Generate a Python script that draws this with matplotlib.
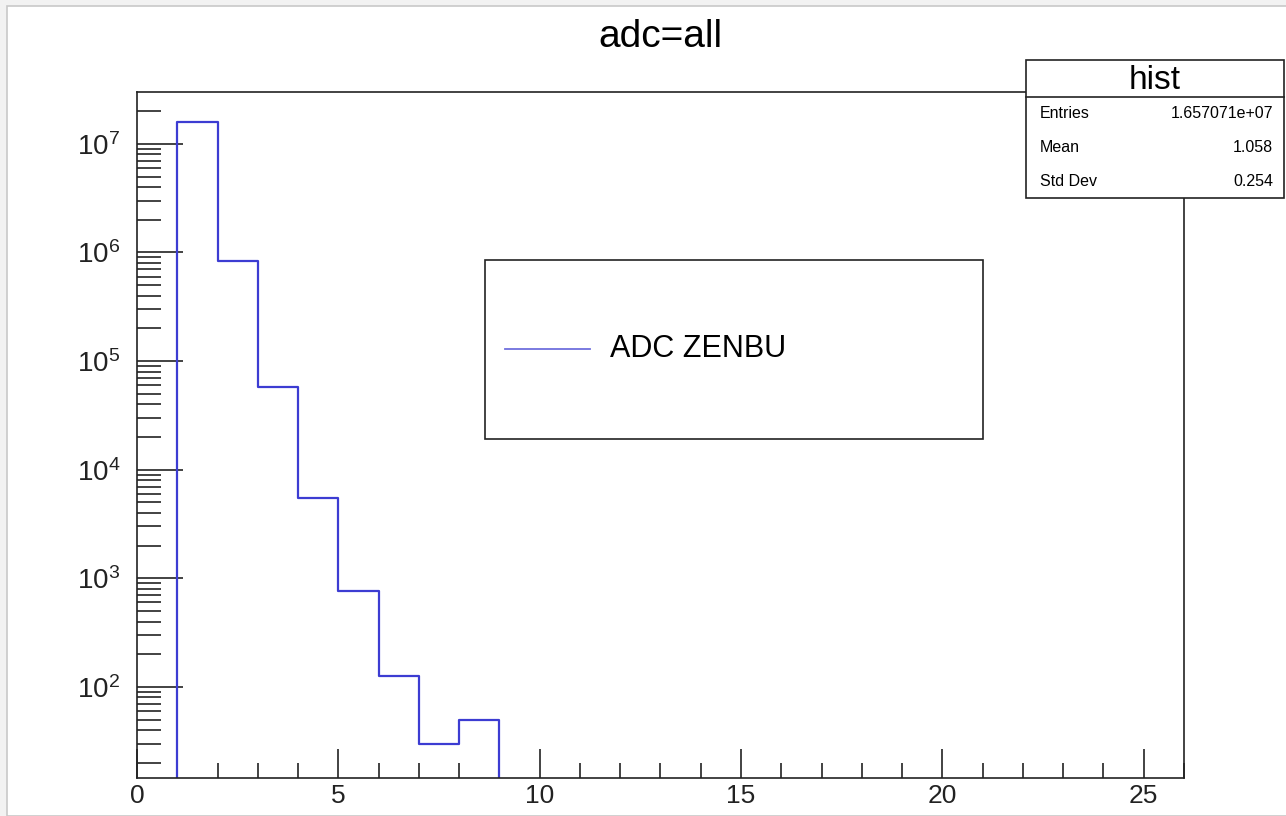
import numpy as np
import matplotlib
matplotlib.use('Agg')
import matplotlib.pyplot as plt
from matplotlib.patches import Rectangle
from matplotlib.ticker import FixedLocator, MultipleLocator, FuncFormatter

plt.rcParams['font.family'] = ['Liberation Sans', 'DejaVu Sans']

# bin edges and counts (adc values)
bin_edges = np.arange(0, 27, 1)
counts = [0, 1.6e7, 8.3e5, 5.8e4, 5.5e3, 760, 127, 30, 50] + [0] * 17

stat_names = ['Entries', 'Mean', 'Std Dev']
stat_values = ['1.657071e+07', '1.058', '0.254']

title = 'adc=all'
legend_label = 'ADC ZENBU'
line_color = '#3c3cd2'

W, H = 1286, 816
fig = plt.figure(figsize=(W / 100, H / 100), dpi=100)
fig.patch.set_facecolor('#f2f2f2')
# white canvas inside the grey window border
fig.patches.append(Rectangle((7 / W, 0), 1, 1 - 6 / H, transform=fig.transFigure,
                             facecolor='white', edgecolor='#c8c8c8', linewidth=1.2, zorder=-10))

ax = fig.add_axes([137 / W, 1 - 778 / H, (1184 - 137) / W, (778 - 92) / H])
ax.set_facecolor('white')

# histogram drawn as ROOT does: outline of non-empty bins, dropping to the floor
ymin, ymax = 14.5, 3.0e7
c = np.array(counts, dtype=float)
nz = np.nonzero(c)[0]
first, last = nz[0], nz[-1]
xs = [bin_edges[first]]
ys = [ymin]
for i in range(first, last + 1):
    xs += [bin_edges[i], bin_edges[i + 1]]
    ys += [c[i], c[i]]
xs.append(bin_edges[last + 1])
ys.append(ymin)
ax.plot(xs, ys, color=line_color, lw=1.6)

ax.set_yscale('log')
ax.set_xlim(0, 26)
ax.set_ylim(ymin, ymax)

for s in ax.spines.values():
    s.set_linewidth(1.2)
    s.set_color('#222222')

ax.xaxis.set_major_locator(MultipleLocator(5))
ax.xaxis.set_minor_locator(MultipleLocator(1))
decades = [10.0 ** k for k in range(2, 8)]
minor = [m * 10.0 ** k for k in range(1, 8) for m in range(2, 10)]
minor = [v for v in minor if ymin < v < ymax]
ax.yaxis.set_major_locator(FixedLocator(decades))
ax.yaxis.set_minor_locator(FixedLocator(minor))
ax.yaxis.set_major_formatter(FuncFormatter(lambda v, p: r'$\mathregular{10^{%d}}$' % round(np.log10(v))))
ax.yaxis.set_minor_formatter(FuncFormatter(lambda v, p: ''))

ax.tick_params(axis='both', which='both', direction='in', colors='#222222', width=1.2,
               top=False, right=False)
ax.tick_params(axis='x', which='major', length=21, labelsize=19, pad=4)
ax.tick_params(axis='x', which='minor', length=11)
ax.tick_params(axis='y', which='major', length=33, labelsize=20, pad=12)
ax.tick_params(axis='y', which='minor', length=17)

fig.text(660 / W, 1 - 37 / H, title, ha='center', va='center', fontsize=28)

# legend box (drawn by hand, ROOT TLegend style)
def fx(px):
    return (px - 137) / (1184 - 137)

def fy(py):
    return (778 - py) / (778 - 92)

ax.add_patch(Rectangle((fx(485), fy(439)), fx(983) - fx(485), fy(260) - fy(439),
                       transform=ax.transAxes, facecolor='white', edgecolor='#222222',
                       linewidth=1.2, zorder=4))
ax.plot([fx(505), fx(590)], [fy(349), fy(349)], transform=ax.transAxes,
        color='#7070dd', lw=1.3, zorder=5)
ax.text(fx(610), fy(349), legend_label, transform=ax.transAxes, ha='left', va='center',
        fontsize=22, zorder=5)

# stats box
bx0, bx1 = 1026 / W, 1284 / W
by_top, by_mid, by_bot = 1 - 60 / H, 1 - 97 / H, 1 - 198 / H
fig.patches.append(Rectangle((bx0, by_bot), bx1 - bx0, by_top - by_bot, transform=fig.transFigure,
                             facecolor='white', edgecolor='#222222', linewidth=1.2, zorder=5))
fig.lines.append(plt.Line2D([bx0, bx1], [by_mid, by_mid], transform=fig.transFigure,
                            color='#222222', lw=1.2, zorder=6))
fig.text((bx0 + bx1) / 2, (by_top + by_mid) / 2 - 0.002, 'hist', ha='center', va='center',
         fontsize=24, zorder=7)
rows_y = [114, 148, 182]
for name, val, ry in zip(stat_names, stat_values, rows_y):
    fig.text(1040 / W, 1 - ry / H, name, ha='left', va='center', fontsize=11.5, zorder=7)
    fig.text(1273 / W, 1 - ry / H, val, ha='right', va='center', fontsize=11.5, zorder=7)

fig.savefig('out.png', dpi=100, facecolor=fig.get_facecolor())
